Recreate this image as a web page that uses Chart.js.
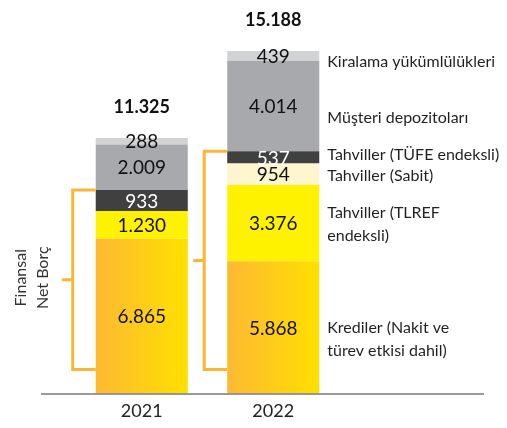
<!DOCTYPE html>
<html>
<head>
<meta charset="utf-8">
<script src="https://cdn.jsdelivr.net/npm/chart.js@4/dist/chart.umd.min.js"></script>
<style>
  html, body { margin: 0; padding: 0; background: #fff; }
  #wrap { width: 507px; height: 428px; position: relative; }
</style>
</head>
<body>
<div id="wrap"><canvas id="chart"></canvas></div>
<script>
// ── Data ──
const years = ['2021', '2022'];
const krediler = [6865, 5868];
const tlref = [1230, 3376];
const sabit = [null, 954];
const tufe = [933, 537];
const musteri = [2009, 4014];
const kiralama = [288, 439];
const totals = [11325, 15188];
const seriesNames = [
  ['Krediler (Nakit ve', 'türev etkisi dahil)'],
  ['Tahviller (TLREF', 'endeksli)'],
  ['Tahviller (Sabit)'],
  ['Tahviller (TÜFE endeksli)'],
  ['Müşteri depozitoları'],
  ['Kiralama yükümlülükleri']
];
const bracketTitle = ['Finansal', 'Net Borç'];

const FONT = "Lato, 'Open Sans', sans-serif";
const ORANGE = '#FBB634';
const fmt = v => String(v).replace(/\B(?=(\d{3})+(?!\d))/g, '.');

// gradient for the Krediler segments (orange -> yellow, left to right)
function krediGradient(ctx) {
  const c = ctx.chart;
  if (!c.chartArea) return '#FDC82F';
  const x = c.scales.x.getPixelForValue(ctx.dataIndex);
  const half = (c.chartArea.width / years.length) * 0.7 / 2;
  const g = c.ctx.createLinearGradient(x - half, 0, x + half, 0);
  g.addColorStop(0, '#FDB933');
  g.addColorStop(1, '#FFE000');
  return g;
}

// ── Annotations: segment values, totals, series names, bracket ──
const annotate = {
  id: 'annotate',
  afterDatasetsDraw(chart) {
    const ctx = chart.ctx;
    const area = chart.chartArea;
    const zeroY = chart.scales.y.getPixelForValue(0);
    ctx.save();

    // segment values
    ctx.textAlign = 'center';
    ctx.textBaseline = 'middle';
    ctx.font = `19px ${FONT}`;
    chart.data.datasets.forEach((ds, di) => {
      chart.getDatasetMeta(di).data.forEach((bar, i) => {
        const v = ds.data[i];
        if (v == null) return;
        ctx.fillStyle = di === 3 ? '#ffffff' : '#111111';
        ctx.fillText(fmt(v), bar.x, (bar.y + bar.base) / 2 + 1);
      });
    });

    // totals above bars
    const topMeta = chart.getDatasetMeta(chart.data.datasets.length - 1);
    ctx.font = `bold 18px ${FONT}`;
    topMeta.data.forEach((bar, i) => {
      ctx.fillStyle = '#111111';
      ctx.fillText(fmt(totals[i]), bar.x, bar.y - 31);
    });

    // series names next to the 2022 bar
    const nameOffsets = [12, 1, 2, -3, 12, 6];
    ctx.textAlign = 'left';
    ctx.font = `16px ${FONT}`;
    ctx.fillStyle = '#231F20';
    chart.data.datasets.forEach((ds, di) => {
      const bar = chart.getDatasetMeta(di).data[1];
      const half = bar.width / 2;
      const cy = (bar.y + bar.base) / 2 + nameOffsets[di];
      const lines = seriesNames[di];
      lines.forEach((t, li) => {
        ctx.fillText(t, bar.x + half + 8, cy + (li - (lines.length - 1) / 2) * 23);
      });
    });

    // brackets for Finansal Net Borç
    ctx.strokeStyle = ORANGE;
    ctx.lineWidth = 3;
    const tufeMeta = chart.getDatasetMeta(3);
    let midFirst = 0;
    tufeMeta.data.forEach((bar, i) => {
      const left = bar.x - bar.width / 2;
      const vx = left - 23;
      const top = bar.y;
      const bot = zeroY - 24;
      const mid = (top + bot) / 2;
      if (i === 0) midFirst = mid;
      ctx.beginPath();
      ctx.moveTo(left, top);
      ctx.lineTo(vx, top);
      ctx.lineTo(vx, bot);
      ctx.lineTo(left, bot);
      ctx.moveTo(vx, mid);
      ctx.lineTo(vx - 11, mid);
      ctx.stroke();
    });

    // rotated bracket title
    const firstBar = tufeMeta.data[0];
    const tx = firstBar.x - firstBar.width / 2 - 75;
    ctx.fillStyle = '#333333';
    ctx.font = `16px ${FONT}`;
    ctx.textAlign = 'center';
    ctx.textBaseline = 'middle';
    bracketTitle.forEach((t, li) => {
      ctx.save();
      ctx.translate(tx + li * 22, midFirst - 2);
      ctx.rotate(-Math.PI / 2);
      ctx.fillText(t, 0, 0);
      ctx.restore();
    });

    // baseline
    const by = zeroY + 0.5;
    ctx.strokeStyle = '#777777';
    ctx.lineWidth = 1.5;
    ctx.beginPath();
    ctx.moveTo(area.left - 35, by);
    ctx.lineTo(area.right + 145, by);
    ctx.stroke();

    ctx.restore();
  }
};

const common = { borderWidth: 0, categoryPercentage: 1, barPercentage: 0.7 };

new Chart(document.getElementById('chart'), {
  type: 'bar',
  data: {
    labels: years,
    datasets: [
      { label: seriesNames[0].join(' '), data: krediler, backgroundColor: krediGradient, ...common },
      { label: seriesNames[1].join(' '), data: tlref, backgroundColor: '#FFF200', ...common },
      { label: seriesNames[2].join(' '), data: sabit, backgroundColor: '#FFF5CF', ...common },
      { label: seriesNames[3].join(' '), data: tufe, backgroundColor: '#404041', ...common },
      { label: seriesNames[4].join(' '), data: musteri, backgroundColor: '#A7A9AC', ...common },
      { label: seriesNames[5].join(' '), data: kiralama, backgroundColor: '#D1D3D4', ...common }
    ]
  },
  options: {
    responsive: true,
    maintainAspectRatio: false,
    animation: false,
    layout: { padding: { left: 76, right: 168, top: 10, bottom: 0 } },
    plugins: { legend: { display: false }, tooltip: { enabled: false } },
    scales: {
      x: {
        stacked: true,
        grid: { display: false, drawTicks: false, tickLength: 0 },
        border: { display: false },
        ticks: { color: '#222222', font: { family: FONT, size: 18, lineHeight: 0.8 }, padding: 10 }
      },
      y: { stacked: true, display: false, min: 0, max: 17000 }
    }
  },
  plugins: [annotate]
});
</script>
</body>
</html>
